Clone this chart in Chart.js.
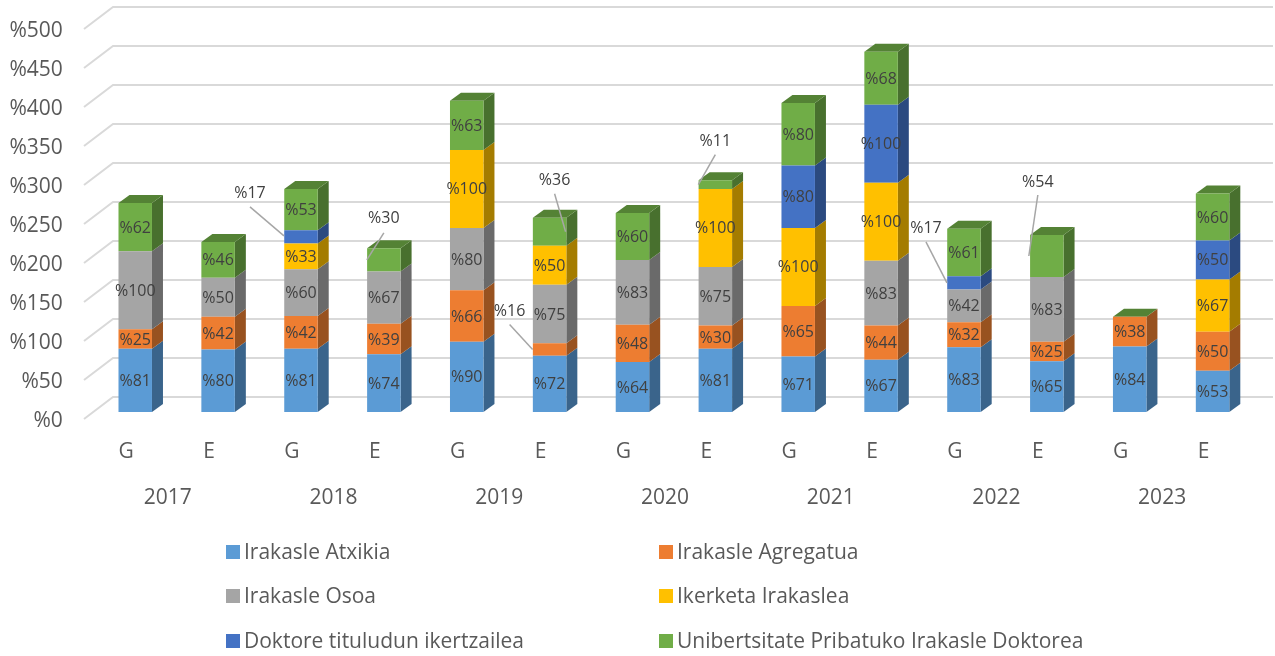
<!DOCTYPE html>
<html>
<head>
<meta charset="utf-8">
<script src="https://cdn.jsdelivr.net/npm/chart.js@4"></script>
<style>
  html, body { margin: 0; padding: 0; background: #fff; }
  canvas { display: block; }
</style>
</head>
<body>
<canvas id="irakasleChart" width="1275" height="656"></canvas>
<script>
const categories = ["G","E","G","E","G","E","G","E","G","E","G","E","G","E"];
const years = ["2017","2018","2019","2020","2021","2022","2023"];
const seriesNames = ["Irakasle Atxikia","Irakasle Agregatua","Irakasle Osoa","Ikerketa Irakaslea","Doktore tituludun ikertzailea","Unibertsitate Pribatuko Irakasle Doktorea"];
const atxikia    = [81,80,81,74,90,72,64,81,71,67,83,65,84,53];
const agregatua  = [25,42,42,39,66,16,48,30,65,44,32,25,38,50];
const osoa       = [100,50,60,67,80,75,83,75,0,83,42,83,0,0];
const ikerketa   = [0,0,33,0,100,50,0,100,100,100,0,0,0,67];
const doktore    = [0,0,17,0,0,0,0,0,80,100,17,0,0,50];
const pribatua   = [62,46,53,30,63,36,60,11,80,68,61,54,0,60];
const seriesValues = [atxikia, agregatua, osoa, ikerketa, doktore, pribatua];
const yTickStep = 50;
const yMax = 500;

const colors = ["#5B9BD5","#ED7D31","#A5A5A5","#FFC000","#4472C4","#70AD47"];
const sideColors = ["#3A648B","#985220","#6A6A6A","#A47C00","#2B4A80","#48702E"];
const topColor = "#548235";
const FONT = '"Open Sans", sans-serif';
const TEXT = "#595959";

// depth of the bars and of the back wall
const barDepth = {x: 11, y: 8};
const wall = {left: 84, back: 113, right: 1273, dy: 22, shift: 15};

// labels pulled away from the bar: [series, category, text dx, text dy, line start dx, dy, line end dx, dy]
const callouts = [
  [4, 2, -51, -44, -51, -30, -17, -1],
  [5, 3, 0, -42, 0, -27, -17, 0],
  [1, 5, -40, -39, -40, -25, -17, 0],
  [5, 5, 5, -52, 5, -38, 16, 0],
  [5, 7, 0, -44, 0, -30, -17, 0],
  [4, 10, -38, -55, -38, -41, -17, 0],
  [5, 11, -9, -75, -9, -61, -18, 0]
];

function poly(ctx, pts, fill) {
  ctx.beginPath();
  pts.forEach((p, i) => i ? ctx.lineTo(p[0], p[1]) : ctx.moveTo(p[0], p[1]));
  ctx.closePath();
  ctx.fillStyle = fill;
  ctx.fill();
}

function noPadding(s) {
  s.paddingTop = 0;
  s.paddingBottom = 0;
  s.paddingLeft = 0;
  s.paddingRight = 0;
}

const wallPlugin = {
  id: "wall",
  beforeDatasetsDraw(chart) {
    const ctx = chart.ctx;
    const y = chart.scales.y;
    ctx.save();
    ctx.strokeStyle = "#D9D9D9";
    ctx.lineWidth = 2;
    y.ticks.forEach((t) => {
      const py = y.getPixelForValue(t.value) - wall.shift;
      ctx.beginPath();
      ctx.moveTo(wall.left, py + wall.dy);
      ctx.lineTo(wall.back, py);
      ctx.lineTo(wall.right, py);
      ctx.stroke();
    });
    // side and top faces
    categories.forEach((c, i) => {
      let topEl = null;
      seriesValues.forEach((vals, s) => {
        if (!vals[i]) return;
        const el = chart.getDatasetMeta(s).data[i];
        const r = el.x + el.width / 2;
        poly(ctx, [[r, el.y], [r + barDepth.x, el.y - barDepth.y], [r + barDepth.x, el.base - barDepth.y], [r, el.base]], sideColors[s]);
        topEl = el;
      });
      const l = topEl.x - topEl.width / 2, r = topEl.x + topEl.width / 2;
      poly(ctx, [[l, topEl.y], [l + barDepth.x, topEl.y - barDepth.y], [r + barDepth.x, topEl.y - barDepth.y], [r, topEl.y]], topColor);
    });
    ctx.restore();
  }
};

const labelPlugin = {
  id: "barLabels",
  afterDatasetsDraw(chart) {
    const ctx = chart.ctx;
    ctx.save();
    ctx.textAlign = "center";
    ctx.textBaseline = "middle";
    ctx.font = "16px " + FONT;
    seriesValues.forEach((vals, s) => {
      vals.forEach((v, i) => {
        if (!v) return;
        const el = chart.getDatasetMeta(s).data[i];
        const cy = (el.y + el.base) / 2;
        const co = callouts.find((c) => c[0] === s && c[1] === i);
        if (co) {
          ctx.strokeStyle = "#A6A6A6";
          ctx.lineWidth = 1.5;
          ctx.beginPath();
          ctx.moveTo(el.x + co[4], cy + co[5]);
          ctx.lineTo(el.x + co[6], cy + co[7]);
          ctx.stroke();
          ctx.fillStyle = "#404040";
          ctx.fillText("%" + v, el.x + co[2], cy + co[3] + 1);
        } else {
          ctx.fillStyle = "#404040";
          ctx.fillText("%" + v, el.x, cy + 1);
        }
      });
    });
    ctx.restore();
  }
};

// two column legend, the built-in one does not line columns up
const legendPlugin = {
  id: "twoColLegend",
  afterDraw(chart) {
    const ctx = chart.ctx;
    const cols = [226, 659];
    const rows = [553, 597, 642];
    ctx.save();
    ctx.font = "21px " + FONT;
    ctx.textBaseline = "middle";
    ctx.textAlign = "left";
    seriesNames.forEach((name, s) => {
      const x = cols[s % 2], y = rows[Math.floor(s / 2)];
      ctx.fillStyle = colors[s];
      ctx.fillRect(x, y - 8, 14, 14);
      ctx.fillStyle = TEXT;
      ctx.fillText(name, x + 18, y);
    });
    ctx.restore();
  }
};

new Chart(document.getElementById("irakasleChart"), {
  type: "bar",
  data: {
    labels: categories,
    datasets: seriesNames.map((name, s) => ({
      label: name,
      data: seriesValues[s],
      backgroundColor: colors[s],
      borderWidth: 0,
      categoryPercentage: 1,
      barPercentage: 0.404
    }))
  },
  options: {
    responsive: false,
    animation: false,
    layout: {padding: {top: 22, right: 21, left: 0, bottom: 0}},
    plugins: {legend: {display: false}, tooltip: {enabled: false}},
    scales: {
      x: {
        stacked: true,
        grid: {display: false},
        border: {display: false},
        ticks: {color: TEXT, font: {family: FONT, size: 21}, padding: 19, labelOffset: -9, autoSkip: false, maxRotation: 0},
        afterFit(s) { s.height = 60; noPadding(s); }
      },
      x2: {
        type: "category",
        labels: years,
        position: "bottom",
        grid: {display: false},
        border: {display: false},
        ticks: {color: TEXT, font: {family: FONT, size: 21}, padding: 5, labelOffset: -9, autoSkip: false, maxRotation: 0},
        afterFit(s) { s.height = 184; noPadding(s); }
      },
      y: {
        stacked: true,
        min: 0,
        max: yMax,
        grid: {display: false},
        border: {display: false},
        ticks: {
          stepSize: yTickStep,
          color: TEXT,
          font: {family: FONT, size: 21},
          padding: 23,
          labelOffset: 9,
          callback: (v) => "%" + v
        },
        afterFit(s) { s.width = 93.8; noPadding(s); }
      }
    }
  },
  plugins: [wallPlugin, labelPlugin, legendPlugin]
});
</script>
</body>
</html>
